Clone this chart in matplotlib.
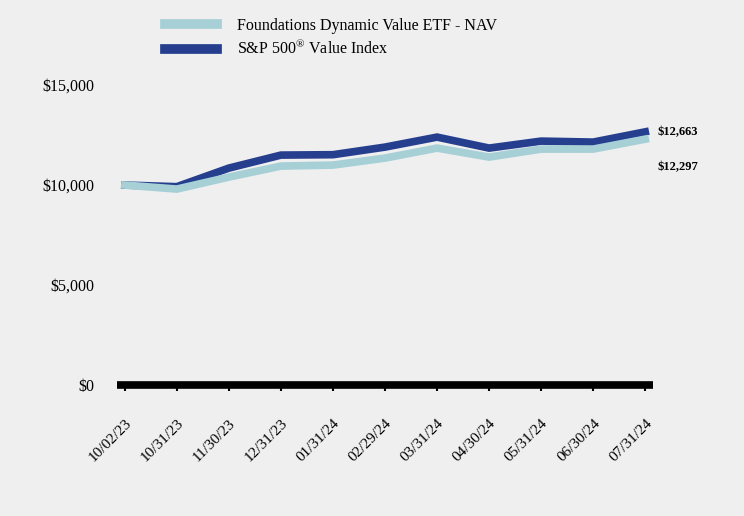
import matplotlib
matplotlib.use("Agg")
import matplotlib.pyplot as plt
from matplotlib.lines import Line2D

dates = ["10/02/23", "10/31/23", "11/30/23", "12/31/23", "01/31/24", "02/29/24",
         "03/31/24", "04/30/24", "05/31/24", "06/30/24", "07/31/24"]
fund = [10000, 9800, 10400, 10950, 11000, 11350, 11850, 11400, 11800, 11800, 12297]
index = [10000, 9920, 10850, 11500, 11520, 11900, 12400, 11850, 12200, 12150, 12663]
yticks = [0, 5000, 10000, 15000]
ytick_labels = ["$0", "$5,000", "$10,000", "$15,000"]

plt.rcParams['font.family'] = ['Liberation Serif', 'DejaVu Serif']
bg = "#efefef"
light = "#a6d0d6"
dark = "#253f8e"

fig = plt.figure(figsize=(7.44, 5.16), dpi=100, facecolor=bg)
ax = fig.add_axes([0.157, 0.254, 0.721, 0.581], facecolor=bg)
x = list(range(len(dates)))
ax.plot(x, index, color=dark, lw=5.5, solid_joinstyle='miter', zorder=3)
ax.plot(x, fund, color=light, lw=5.5, solid_joinstyle='miter', zorder=4)

ax.set_xlim(-0.154, 10.154)
ax.set_ylim(0, 15000)
ax.set_yticks(yticks)
ax.set_yticklabels(ytick_labels, fontsize=11.5)
ax.set_xticks(x)
ax.set_xticklabels(dates, rotation=45, ha='right', rotation_mode='anchor', fontsize=11)
for s in ['top', 'right', 'left']:
    ax.spines[s].set_visible(False)
ax.spines['bottom'].set_linewidth(5.5)
ax.spines['bottom'].set_color('black')
ax.spines['bottom'].set_capstyle('butt')
ax.tick_params(axis='y', length=0, pad=16)
ax.tick_params(axis='x', length=4, width=1.5, pad=19)

ax.annotate("$12,663", xy=(x[-1], index[-1]), xytext=(9, 0), textcoords='offset points',
            fontsize=9, fontweight='bold', va='center')
ax.annotate("$12,297", xy=(x[-1], fund[-1]), xytext=(9, -20), textcoords='offset points',
            fontsize=9, fontweight='bold', va='center')

handles = [Line2D([0], [0], color=light, lw=7), Line2D([0], [0], color=dark, lw=7)]
fig.legend(handles, ["Foundations Dynamic Value ETF - NAV", "S&P 500$^{\\mathregular{®}}$ Value Index"],
           loc='upper left', bbox_to_anchor=(0.203, 0.993), frameon=False, fontsize=11.5,
           handlelength=3.2, handletextpad=1.3, labelspacing=0.35)

fig.savefig("out.png", dpi=100, facecolor=bg)
